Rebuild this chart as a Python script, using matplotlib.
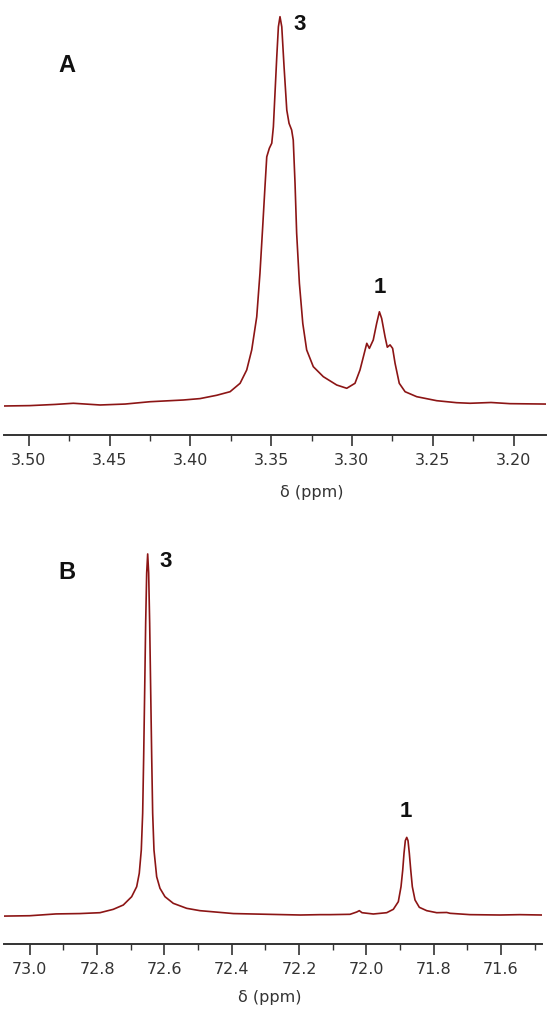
import numpy as np
import matplotlib
matplotlib.use("Agg")
import matplotlib.pyplot as plt
from matplotlib.ticker import MultipleLocator

# Panel A: 1H spectrum, chemical shift (ppm) vs intensity (peak 3 = 100)
ppm_a = [3.5156, 3.4992, 3.4837, 3.4724, 3.4558, 3.4404, 3.4249, 3.4043, 3.3940, 3.3837,
         3.3754, 3.3692, 3.3651, 3.3620, 3.3589, 3.3569, 3.3552, 3.3538, 3.3527, 3.3511,
         3.3496, 3.3486, 3.3476, 3.3465, 3.3455, 3.3445, 3.3434, 3.3420, 3.3403, 3.3389,
         3.3373, 3.3363, 3.3352, 3.3342, 3.3325, 3.3304, 3.3280, 3.3239, 3.3177, 3.3094,
         3.3032, 3.2981, 3.2950, 3.2929, 3.2908, 3.2892, 3.2868, 3.2847, 3.2830, 3.2816,
         3.2795, 3.2781, 3.2764, 3.2748, 3.2733, 3.2707, 3.2671, 3.2599, 3.2475, 3.2352,
         3.2269, 3.2139, 3.2022, 3.1799]
int_a = [0.0, 0.1, 0.4, 0.7, 0.26, 0.5, 1.1, 1.54, 1.9, 2.75,
         3.67, 5.83, 9.25, 14.4, 22.9, 34.1, 46.1, 56.3, 64.0, 66.2,
         67.5, 71.7, 80.3, 89.7, 97.4, 100.0, 97.4, 87.2, 76.0, 72.6,
         70.9, 68.3, 57.2, 44.4, 31.5, 21.2, 14.4, 10.1, 7.53, 5.39,
         4.55, 5.83, 9.25, 12.66, 16.1, 14.8, 16.95, 21.2, 24.2, 22.5,
         17.8, 15.1, 15.7, 14.8, 10.97, 5.83, 3.67, 2.39, 1.36, 0.85,
         0.7, 0.9, 0.6, 0.5]

# Panel B: 13C spectrum
ppm_b = [73.078, 73.000, 72.922, 72.851, 72.7914, 72.7519, 72.7221, 72.6972, 72.6823, 72.6746,
         72.6686, 72.6645, 72.6615, 72.6585, 72.6556, 72.6526, 72.6496, 72.6467, 72.6437, 72.6407,
         72.6377, 72.6348, 72.6309, 72.6229, 72.6131, 72.5982, 72.5735, 72.5337, 72.4942, 72.395,
         72.297, 72.196, 72.137, 72.1079, 72.0484, 72.0285, 72.0208, 72.0128, 71.9792, 71.9394,
         71.9197, 71.9049, 71.8969, 71.8918, 71.8880, 71.8841, 71.8799, 71.8761, 71.8722, 71.8680,
         71.8633, 71.8553, 71.8425, 71.8205, 71.7908, 71.7610, 71.7512, 71.692, 71.603, 71.544,
         71.478]
int_b = [-0.3, -0.2, 0.3, 0.4, 0.64, 1.57, 2.77, 5.07, 7.84, 11.55,
         18.0, 28.2, 43.9, 62.3, 80.8, 94.7, 100.0, 94.7, 80.8, 62.3,
         43.9, 28.2, 18.0, 10.6, 7.4, 5.07, 3.23, 1.85, 1.2, 0.4,
         0.2, 0.0, 0.1, 0.1, 0.19, 0.83, 1.2, 0.64, 0.28, 0.64,
         1.58, 3.69, 7.84, 12.47, 17.1, 20.6, 21.5, 20.6, 17.1, 12.47,
         7.84, 4.16, 2.13, 1.2, 0.64, 0.7, 0.47, 0.1, 0.0, 0.1,
         0.0]

LINE = "#8c1515"
AXC = "#333333"
W, H = 550, 1013


def style_axis(ax, major, minor):
    for side in ("left", "right", "top"):
        ax.spines[side].set_visible(False)
    ax.spines["bottom"].set_color(AXC)
    ax.spines["bottom"].set_linewidth(1.4)
    ax.set_yticks([])
    ax.xaxis.set_major_locator(MultipleLocator(major))
    ax.xaxis.set_minor_locator(MultipleLocator(minor))
    ax.tick_params(axis="x", which="major", direction="out", length=8, width=1.2,
                   color=AXC, labelcolor=AXC, labelsize=11.5, pad=5)
    ax.tick_params(axis="x", which="minor", direction="out", length=4, width=1.0, color=AXC)
    ax.patch.set_visible(False)


def label_peak(ax, x, y, mask, text, dx, dy):
    x = np.asarray(x)
    y = np.asarray(y)
    i = np.argmax(np.where(mask, y, -np.inf))
    ax.annotate(text, (x[i], y[i]), xytext=(dx, dy), textcoords="offset pixels",
                ha="center", va="center", fontsize=16, fontweight="bold",
                family="Liberation Sans", color="#111111")


fig = plt.figure(figsize=(W / 100, H / 100), dpi=100)

ax_a = fig.add_axes([3.5 / W, 1 - 435 / H, 542.5 / W, 430 / H])
ax_a.plot(ppm_a, int_a, color=LINE, linewidth=1.2)
ax_a.set_xlim(3.5156, 3.1799)
ax_a.set_ylim(-7.45, 103.0)
style_axis(ax_a, 0.05, 0.025)
ax_a.xaxis.set_major_formatter(matplotlib.ticker.FormatStrFormatter("%.2f"))
pa = np.asarray(ppm_a)
label_peak(ax_a, ppm_a, int_a, pa > 3.31, "3", 20, -8)
label_peak(ax_a, ppm_a, int_a, pa < 3.30, "1", 0, 24)
ax_a.text(0.116, 0.86, "A", transform=ax_a.transAxes, ha="center", va="center",
          fontsize=17, fontweight="bold", family="Liberation Sans", color="#111111")
ax_a.text(0.569, -0.1326, "δ (ppm)", transform=ax_a.transAxes, ha="center", va="center",
          fontsize=11.5, color=AXC)

ax_b = fig.add_axes([3.5 / W, 1 - 944 / H, 538.5 / W, 424 / H])
ax_b.plot(ppm_b, int_b, color=LINE, linewidth=1.2)
ax_b.set_xlim(73.078, 71.478)
ax_b.set_ylim(-8.03, 109.4)
style_axis(ax_b, 0.2, 0.1)
ax_b.xaxis.set_major_formatter(matplotlib.ticker.FormatStrFormatter("%.1f"))
pb = np.asarray(ppm_b)
label_peak(ax_b, ppm_b, int_b, pb > 72.3, "3", 18, -8)
label_peak(ax_b, ppm_b, int_b, pb < 72.0, "1", -1, 26)
ax_b.text(0.117, 0.877, "B", transform=ax_b.transAxes, ha="center", va="center",
          fontsize=17, fontweight="bold", family="Liberation Sans", color="#111111")
ax_b.text(0.495, -0.125, "δ (ppm)", transform=ax_b.transAxes, ha="center", va="center",
          fontsize=11.5, color=AXC)

fig.savefig("out.png", dpi=100)
